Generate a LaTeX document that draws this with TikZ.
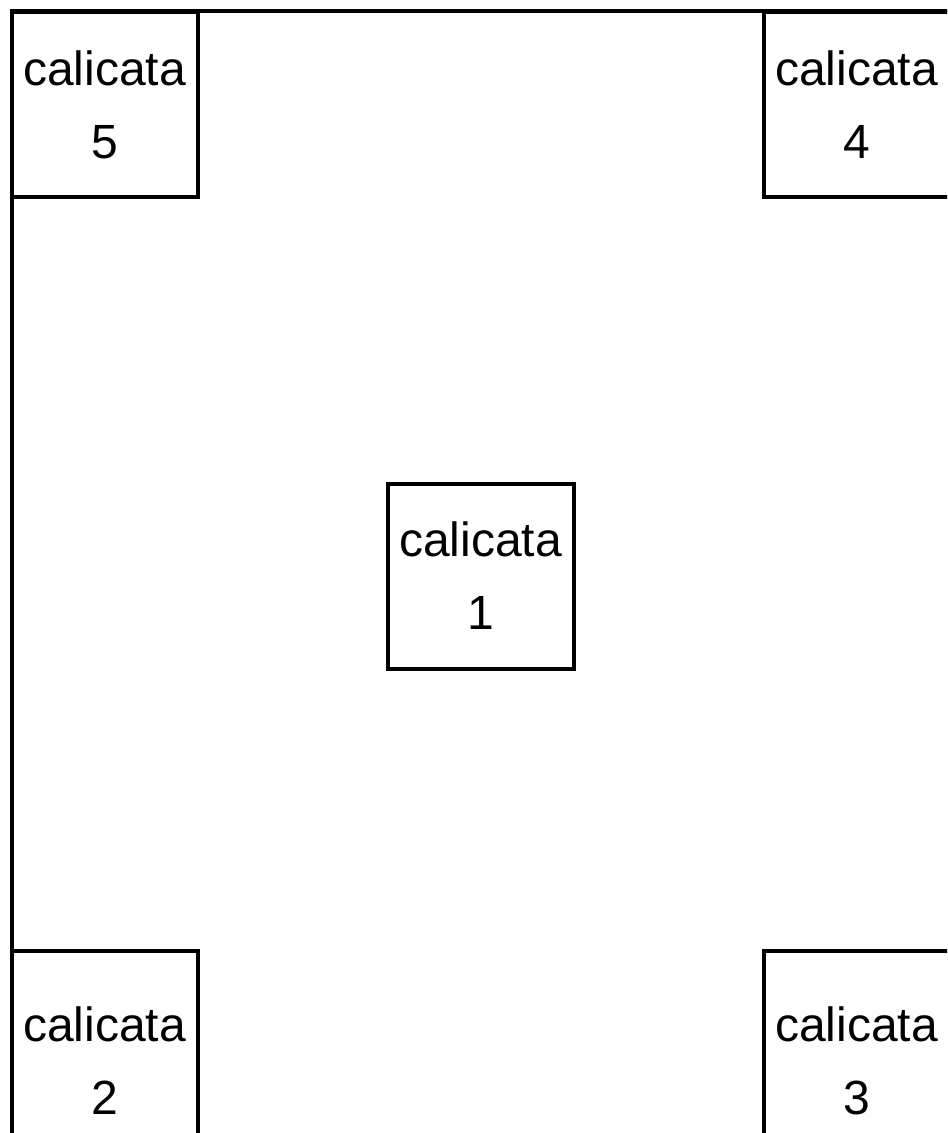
\documentclass[tikz,border=0pt]{standalone}
\usepackage{fontspec}
\setmainfont{Liberation Sans}
\usetikzlibrary{positioning}
\tikzset{pit/.style={draw, rectangle, line width=2pt, minimum width=93pt, minimum height=92.5pt, inner sep=0pt, align=center, font=\fontsize{24}{36.5}\selectfont}}
\begin{document}
\begin{tikzpicture}[node distance=141pt and 93pt]
        \clip (0,0) rectangle (473.5pt,-566.5pt);
        \draw[line width=2pt] (5.75pt,-5.75pt) rectangle (478pt,-572pt);
        \node (pit1) [pit] at (240.25pt,-288pt) {calicata\\1};
        \node (pit5) [pit, above left=141pt and 93pt of pit1] {calicata\\5};
        \node (pit4) [pit, above right=141pt and 93pt of pit1] {calicata\\4};
        \node (pit2) [pit, minimum height=110.5pt, below left=139pt and 93pt of pit1] {calicata\\2};
        \node (pit3) [pit, minimum height=110.5pt, below right=139pt and 93pt of pit1] {calicata\\3};
    \end{tikzpicture}
\end{document}
